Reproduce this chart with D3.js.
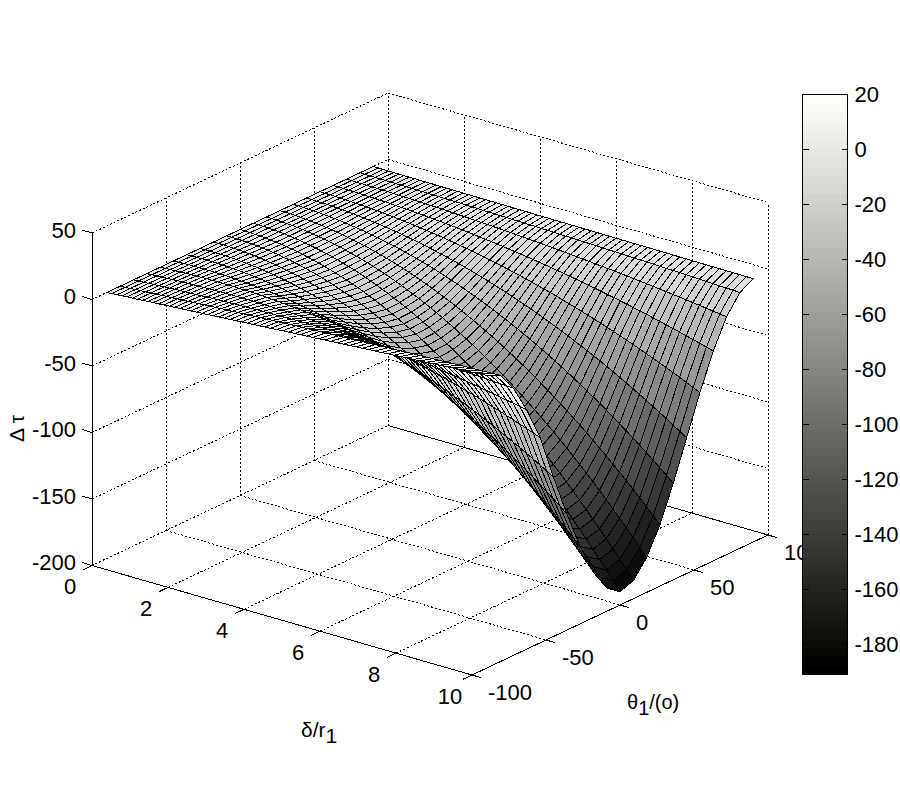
<!DOCTYPE html>
<html>
<head>
<meta charset="utf-8">
<style>
html,body{margin:0;padding:0;background:#fff}
svg{display:block}
text{font-family:"Liberation Sans",Arial,sans-serif;fill:#000}
</style>
<script src="https://cdn.jsdelivr.net/npm/d3@7"></script>
</head>
<body>
<svg id="chart" width="900" height="800"></svg>
<script>
const deltaValues=[0,.133,.267,.402,.537,.673,.81,.948,1.086,1.225,1.365,1.505,1.647,1.789,1.931,2.075,2.219,2.364,2.509,2.656,2.803,2.951,3.099,3.248,3.398,3.549,3.701,3.853,4.006,4.16,4.314,4.469,4.625,4.782,4.939,5.097,5.256,5.415,5.576,5.737,5.898,6.061,6.224,6.388,6.553,6.718,6.884,7.051,7.219,7.387,7.556,7.726,7.897,8.068,8.24,8.413,8.586,8.76,8.935,9.111,9.287,9.464,9.642,9.821,10];
const thetaValues=[-90,-81,-72,-63,-54,-45,-36,-27,-18,-9,0,9,18,27,36,45,54,63,72,81,90];
const xTicks=[0,2,4,6,8,10];
const yTicks=[-100,-50,0,50,100];
const zTicks=[-200,-150,-100,-50,0,50];
const barTicks=[20,0,-20,-40,-60,-80,-100,-120,-140,-160,-180];

const tauM90=[0,.3,.5,.8,1.1,1.3,1.6,1.9,2.2,2.5,2.7,3,3.3,3.6,3.9,4.1,4.4,4.7,5,5.3,5.6,5.9,6.2,6.5,6.8,7.1,7.4,7.7,8,8.3,8.6,8.9,9.3,9.6,9.9,10.2,10.5,10.8,11.2,11.5,11.8,12.1,12.4,12.8,13.1,13.4,13.8,14.1,14.4,14.8,15.1,15.5,15.8,16.1,16.5,16.8,17.2,17.5,17.9,18.2,18.6,18.9,19.3,19.6,20];
const tauM81=[0,.3,.5,.8,1.1,1.3,1.6,1.9,2.1,2.4,2.6,2.9,3.2,3.4,3.7,3.9,4.2,4.5,4.7,5,5.2,5.5,5.8,6,6.3,6.5,6.8,7,7.3,7.5,7.8,8,8.3,8.5,8.7,9,9.2,9.5,9.7,9.9,10.2,10.4,10.6,10.9,11.1,11.3,11.6,11.8,12,12.2,12.5,12.7,12.9,13.1,13.3,13.5,13.7,14,14.2,14.4,14.6,14.8,15,15.2,15.3];
const tauM72=[0,.3,.5,.7,1,1.2,1.4,1.6,1.9,2.1,2.3,2.5,2.6,2.8,3,3.2,3.3,3.5,3.6,3.8,3.9,4,4.2,4.3,4.4,4.5,4.5,4.6,4.7,4.8,4.8,4.9,4.9,4.9,5,5,5,5,5,4.9,4.9,4.9,4.8,4.7,4.7,4.6,4.5,4.4,4.3,4.1,4,3.9,3.7,3.5,3.3,3.1,2.9,2.7,2.5,2.3,2,1.7,1.5,1.2,.9];
const tauM63=[0,.2,.5,.7,.9,1.1,1.3,1.5,1.6,1.7,1.9,2,2.1,2.2,2.2,2.3,2.3,2.3,2.3,2.3,2.3,2.2,2.1,2,1.9,1.8,1.7,1.5,1.3,1.1,.9,.7,.4,.1,-.2,-.5,-.8,-1.2,-1.6,-2,-2.4,-2.9,-3.3,-3.8,-4.4,-4.9,-5.5,-6.1,-6.7,-7.3,-8,-8.7,-9.4,-10.2,-10.9,-11.7,-12.6,-13.4,-14.3,-15.2,-16.1,-17.1,-18.1,-19.1,-20.2];
const tauM54=[0,.3,.5,.7,.9,1.1,1.2,1.3,1.4,1.5,1.5,1.5,1.5,1.5,1.4,1.3,1.2,1.1,.9,.7,.5,.2,-.1,-.4,-.8,-1.2,-1.6,-2,-2.5,-3,-3.6,-4.2,-4.8,-5.5,-6.1,-6.9,-7.6,-8.4,-9.3,-10.1,-11,-12,-13,-14,-15.1,-16.2,-17.3,-18.5,-19.8,-21.1,-22.4,-23.7,-25.1,-26.6,-28.1,-29.6,-31.2,-32.9,-34.5,-36.3,-38.1,-39.9,-41.8,-43.7,-45.7];
const tauM45=[0,.2,.3,.5,.5,.6,.6,.6,.5,.4,.3,.1,-.1,-.4,-.6,-1,-1.4,-1.8,-2.2,-2.7,-3.3,-3.8,-4.5,-5.2,-5.9,-6.7,-7.5,-8.3,-9.2,-10.2,-11.2,-12.3,-13.4,-14.6,-15.8,-17,-18.4,-19.7,-21.2,-22.7,-24.2,-25.8,-27.5,-29.2,-31,-32.8,-34.7,-36.7,-38.7,-40.8,-42.9,-45.1,-47.4,-49.7,-52.1,-54.6,-57.2,-59.8,-62.4,-65.2,-68,-70.9,-73.9,-76.9,-80];
const tauM36=[0,.1,.2,.3,.3,.3,.2,0,-.2,-.4,-.7,-1,-1.4,-1.8,-2.3,-2.9,-3.5,-4.1,-4.8,-5.6,-6.4,-7.3,-8.2,-9.2,-10.3,-11.4,-12.6,-13.8,-15.1,-16.5,-18,-19.5,-21.1,-22.7,-24.4,-26.2,-28,-30,-32,-34.1,-36.2,-38.4,-40.7,-43.1,-45.5,-48.1,-50.7,-53.4,-56.1,-59,-61.9,-65,-68.1,-71.3,-74.5,-77.9,-81.4,-84.9,-88.6,-92.3,-96.1,-100,-104,-108.2,-112.4];
const tauM27=[0,.1,.1,.1,0,-.1,-.3,-.5,-.8,-1.2,-1.6,-2.1,-2.6,-3.2,-3.9,-4.6,-5.4,-6.3,-7.2,-8.2,-9.3,-10.5,-11.7,-13,-14.4,-15.8,-17.3,-18.9,-20.6,-22.4,-24.2,-26.1,-28.1,-30.2,-32.4,-34.6,-36.9,-39.4,-41.9,-44.5,-47.2,-49.9,-52.8,-55.8,-58.9,-62,-65.3,-68.6,-72.1,-75.7,-79.3,-83.1,-87,-90.9,-95,-99.2,-103.5,-107.9,-112.4,-117,-121.7,-126.6,-131.6,-136.6,-141.8];
const tauM18=[0,.1,.1,0,-.2,-.4,-.7,-1,-1.4,-1.8,-2.4,-3,-3.7,-4.4,-5.3,-6.2,-7.1,-8.2,-9.3,-10.5,-11.8,-13.2,-14.7,-16.2,-17.8,-19.5,-21.3,-23.2,-25.2,-27.2,-29.4,-31.6,-34,-36.4,-39,-41.6,-44.3,-47.2,-50.1,-53.1,-56.3,-59.5,-62.8,-66.3,-69.9,-73.5,-77.3,-81.2,-85.2,-89.3,-93.6,-97.9,-102.4,-107,-111.7,-116.6,-121.5,-126.6,-131.8,-137.2,-142.7,-148.3,-154,-159.8,-165.9];
const tauM9=[0,0,-.1,-.2,-.4,-.6,-1,-1.4,-1.9,-2.4,-3,-3.8,-4.5,-5.4,-6.3,-7.4,-8.5,-9.7,-10.9,-12.3,-13.7,-15.3,-16.9,-18.6,-20.4,-22.3,-24.3,-26.4,-28.5,-30.8,-33.2,-35.7,-38.3,-41,-43.7,-46.6,-49.6,-52.7,-56,-59.3,-62.7,-66.3,-69.9,-73.7,-77.6,-81.6,-85.8,-90,-94.4,-98.9,-103.6,-108.3,-113.2,-118.2,-123.4,-128.7,-134.1,-139.6,-145.3,-151.1,-157.1,-163.2,-169.4,-175.8,-182.4];
const tauP0=[0,0,-.1,-.3,-.5,-.9,-1.2,-1.7,-2.2,-2.9,-3.5,-4.3,-5.2,-6.1,-7.1,-8.2,-9.4,-10.6,-12,-13.4,-14.9,-16.5,-18.2,-20,-21.9,-23.9,-26,-28.2,-30.5,-32.9,-35.4,-37.9,-40.6,-43.4,-46.3,-49.4,-52.5,-55.7,-59.1,-62.5,-66.1,-69.8,-73.6,-77.5,-81.6,-85.8,-90,-94.5,-99,-103.7,-108.5,-113.4,-118.5,-123.7,-129,-134.5,-140.1,-145.8,-151.7,-157.7,-163.9,-170.2,-176.6,-183.2,-190];
const tauP9=[0,0,-.2,-.3,-.6,-.9,-1.3,-1.8,-2.3,-2.9,-3.6,-4.4,-5.2,-6.1,-7.1,-8.2,-9.3,-10.6,-11.9,-13.3,-14.8,-16.4,-18.1,-19.9,-21.8,-23.7,-25.8,-27.9,-30.1,-32.5,-34.9,-37.5,-40.1,-42.9,-45.7,-48.7,-51.7,-54.9,-58.2,-61.6,-65.1,-68.7,-72.4,-76.3,-80.3,-84.3,-88.5,-92.9,-97.3,-101.9,-106.6,-111.4,-116.4,-121.5,-126.7,-132,-137.5,-143.1,-148.9,-154.8,-160.8,-167,-173.3,-179.7,-186.4];
const tauP18=[0,-.1,-.2,-.4,-.6,-.9,-1.3,-1.7,-2.3,-2.8,-3.5,-4.2,-5,-5.9,-6.8,-7.8,-8.9,-10.1,-11.3,-12.7,-14.1,-15.6,-17.1,-18.8,-20.5,-22.4,-24.3,-26.3,-28.4,-30.6,-32.8,-35.2,-37.7,-40.3,-42.9,-45.7,-48.5,-51.5,-54.6,-57.7,-61,-64.3,-67.8,-71.4,-75.1,-78.9,-82.8,-86.9,-91,-95.3,-99.6,-104.1,-108.7,-113.5,-118.3,-123.3,-128.4,-133.6,-139,-144.5,-150.1,-155.8,-161.7,-167.7,-173.9];
const tauP27=[0,-.1,-.2,-.4,-.6,-.9,-1.2,-1.6,-2.1,-2.6,-3.2,-3.9,-4.6,-5.4,-6.2,-7.1,-8.1,-9.1,-10.3,-11.4,-12.7,-14,-15.4,-16.9,-18.4,-20.1,-21.8,-23.6,-25.4,-27.4,-29.4,-31.5,-33.7,-35.9,-38.3,-40.7,-43.3,-45.9,-48.6,-51.4,-54.3,-57.2,-60.3,-63.5,-66.7,-70.1,-73.6,-77.1,-80.8,-84.5,-88.4,-92.4,-96.4,-100.6,-104.9,-109.3,-113.8,-118.4,-123.1,-127.9,-132.9,-138,-143.1,-148.4,-153.8];
const tauP36=[0,-.1,-.2,-.3,-.5,-.8,-1.1,-1.4,-1.8,-2.2,-2.7,-3.3,-3.9,-4.5,-5.2,-6,-6.8,-7.7,-8.6,-9.6,-10.6,-11.7,-12.9,-14.1,-15.4,-16.7,-18.1,-19.6,-21.2,-22.8,-24.4,-26.2,-28,-29.9,-31.8,-33.8,-35.9,-38.1,-40.3,-42.7,-45,-47.5,-50,-52.7,-55.4,-58.2,-61,-64,-67,-70.1,-73.3,-76.6,-79.9,-83.4,-86.9,-90.5,-94.3,-98.1,-102,-106,-110.1,-114.2,-118.5,-122.9,-127.4];
const tauP45=[0,-.1,-.2,-.3,-.4,-.6,-.9,-1.1,-1.5,-1.8,-2.2,-2.6,-3.1,-3.6,-4.1,-4.7,-5.4,-6,-6.7,-7.5,-8.3,-9.2,-10.1,-11,-12,-13,-14.1,-15.3,-16.4,-17.7,-19,-20.3,-21.7,-23.2,-24.7,-26.2,-27.8,-29.5,-31.2,-33,-34.8,-36.7,-38.7,-40.7,-42.8,-44.9,-47.1,-49.4,-51.7,-54.1,-56.5,-59,-61.6,-64.3,-67,-69.8,-72.6,-75.5,-78.5,-81.6,-84.7,-87.9,-91.2,-94.6,-98];
const tauP54=[0,-.1,-.1,-.2,-.4,-.5,-.7,-.9,-1.1,-1.4,-1.6,-1.9,-2.3,-2.6,-3,-3.5,-3.9,-4.4,-4.9,-5.4,-6,-6.6,-7.2,-7.9,-8.6,-9.3,-10.1,-10.9,-11.7,-12.6,-13.5,-14.5,-15.4,-16.4,-17.5,-18.6,-19.7,-20.9,-22.1,-23.3,-24.6,-25.9,-27.3,-28.7,-30.2,-31.7,-33.2,-34.8,-36.4,-38,-39.8,-41.5,-43.3,-45.2,-47,-49,-51,-53,-55.1,-57.2,-59.4,-61.6,-63.9,-66.3,-68.7];
const tauP63=[0,-.1,-.1,-.2,-.3,-.4,-.5,-.6,-.8,-1,-1.1,-1.3,-1.6,-1.8,-2,-2.3,-2.6,-2.9,-3.2,-3.6,-3.9,-4.3,-4.7,-5.1,-5.5,-6,-6.5,-7,-7.5,-8,-8.6,-9.2,-9.8,-10.4,-11,-11.7,-12.4,-13.1,-13.8,-14.6,-15.4,-16.2,-17,-17.9,-18.8,-19.7,-20.6,-21.6,-22.6,-23.6,-24.6,-25.7,-26.8,-27.9,-29.1,-30.2,-31.5,-32.7,-33.9,-35.2,-36.6,-37.9,-39.3,-40.7,-42.2];
const tauP72=[0,0,-.1,-.2,-.2,-.3,-.4,-.4,-.5,-.6,-.8,-.9,-1,-1.1,-1.3,-1.4,-1.6,-1.7,-1.9,-2.1,-2.3,-2.5,-2.7,-2.9,-3.1,-3.4,-3.6,-3.9,-4.1,-4.4,-4.7,-5,-5.3,-5.6,-5.9,-6.2,-6.6,-6.9,-7.3,-7.7,-8.1,-8.5,-8.9,-9.3,-9.8,-10.2,-10.7,-11.1,-11.6,-12.1,-12.6,-13.2,-13.7,-14.2,-14.8,-15.4,-16,-16.6,-17.2,-17.8,-18.4,-19.1,-19.8,-20.5,-21.2];
const tauP81=[0,0,-.1,-.1,-.2,-.2,-.3,-.3,-.4,-.4,-.5,-.6,-.6,-.7,-.8,-.8,-.9,-1,-1,-1.1,-1.2,-1.3,-1.4,-1.5,-1.6,-1.7,-1.8,-1.9,-2,-2.1,-2.2,-2.3,-2.4,-2.5,-2.6,-2.7,-2.9,-3,-3.1,-3.3,-3.4,-3.5,-3.7,-3.8,-4,-4.1,-4.3,-4.4,-4.6,-4.8,-4.9,-5.1,-5.3,-5.5,-5.6,-5.8,-6,-6.2,-6.4,-6.6,-6.8,-7,-7.2,-7.4,-7.7];
const tauP90=[0,0,-.1,-.1,-.1,-.1,-.2,-.2,-.2,-.2,-.3,-.3,-.3,-.4,-.4,-.4,-.4,-.5,-.5,-.5,-.6,-.6,-.6,-.6,-.7,-.7,-.7,-.8,-.8,-.8,-.9,-.9,-.9,-1,-1,-1,-1.1,-1.1,-1.1,-1.1,-1.2,-1.2,-1.2,-1.3,-1.3,-1.3,-1.4,-1.4,-1.4,-1.5,-1.5,-1.5,-1.6,-1.6,-1.6,-1.7,-1.7,-1.8,-1.8,-1.8,-1.9,-1.9,-1.9,-2,-2];
const tauRows=[tauM90,tauM81,tauM72,tauM63,tauM54,tauM45,tauM36,tauM27,tauM18,tauM9,tauP0,tauP9,tauP18,tauP27,tauP36,tauP45,tauP54,tauP63,tauP72,tauP81,tauP90];

const svg=d3.select("#chart");
// oblique view of the box, one pair of screen scales per data axis
const xPx=d3.scaleLinear().domain([0,10]).range([0,380]);
const xPy=d3.scaleLinear().domain([0,10]).range([0,109.5]);
const yPx=d3.scaleLinear().domain([-100,100]).range([0,296]);
const yPy=d3.scaleLinear().domain([-100,100]).range([0,-140]);
const zPy=d3.scaleLinear().domain([-200,50]).range([0,-332.5]);
const P=(x,y,z)=>[92+xPx(x)+yPx(y),565.5+xPy(x)+yPy(y)+zPy(z)];
const seg=(a,b,dashed)=>svg.append("line")
  .attr("x1",a[0]).attr("y1",a[1]).attr("x2",b[0]).attr("y2",b[1])
  .attr("stroke","#000").attr("stroke-width",1).attr("shape-rendering","crispEdges")
  .attr("stroke-dasharray",dashed?"2 2":null);
const [xa,xb]=[xTicks[0],xTicks[5]],[ya,yb]=[yTicks[0],yTicks[4]],[za,zb]=[zTicks[0],zTicks[5]];
// grid on floor and back walls
xTicks.forEach(x=>{
  if(x>xa) seg(P(x,yb,za),P(x,yb,zb),true);
  if(x>xa&&x<xb) seg(P(x,ya,za),P(x,yb,za),true);
});
yTicks.forEach(y=>{
  seg(P(xa,y,za),P(xa,y,zb),true);
  if(y>ya&&y<yb) seg(P(xa,y,za),P(xb,y,za),true);
});
seg(P(xa,ya,za),P(xa,yb,za),true);
zTicks.forEach(z=>{
  if(z>za){
    seg(P(xa,ya,z),P(xa,yb,z),true);
    seg(P(xa,yb,z),P(xb,yb,z),true);
  }
});
// solid axes
seg(P(xa,ya,za),P(xb,ya,za));
seg(P(xb,ya,za),P(xb,yb,za));
seg(P(xa,yb,za),P(xb,yb,za));
seg(P(xa,ya,za),P(xa,ya,zb));
// ticks + tick labels
const label=(x,y,t,anchor)=>svg.append("text").attr("x",x).attr("y",y).attr("font-size",22)
  .attr("text-anchor",anchor).text(t);
xTicks.forEach(x=>{
  const p=P(x,ya,za);
  seg(p,[p[0]-9,p[1]+4.3]);
  label(p[0]-22,p[1]+28.5,x,"middle");
});
yTicks.forEach(y=>{
  const p=P(xb,y,za);
  seg(p,[p[0]+9,p[1]+2.6]);
  label(p[0]+16,p[1]+25,y,"start");
});
zTicks.forEach(z=>{
  const p=P(xa,ya,z);
  seg(p,[p[0]-10,p[1]-3]);
  label(76,p[1]+4.5,z,"end");
});
// axis titles
const t1=svg.append("text").attr("x",301).attr("y",737).attr("font-size",21);
t1.append("tspan").text("δ/r");
t1.append("tspan").attr("dy",6).text("1");
const t2=svg.append("text").attr("x",627).attr("y",709).attr("font-size",20);
t2.append("tspan").text("θ");
t2.append("tspan").attr("dy",6).text("1");
t2.append("tspan").attr("dy",-6).text("/(ο)");
svg.append("text").attr("transform","translate(24,442) rotate(-90)").attr("font-size",21).text("Δ τ");

// surface
const flat=tauRows.flat();
const cLo=-191,cHi=d3.max(flat);
const levels=d3.range(64).map(i=>Math.round(i/63*255));
const grays=levels.map(g=>`rgb(${g},${g},${g})`);
const color=d3.scaleQuantize().domain([cLo,cHi]).range(grays);
const facets=[];
for(let i=0;i<deltaValues.length-1;i++){
  for(let j=thetaValues.length-2;j>=0;j--){
    facets.push({i,j});
  }
}
const line=d3.line().curve(d3.curveLinearClosed);
svg.append("g").selectAll("path").data(facets).join("path")
  .attr("d",d=>line([
    P(deltaValues[d.i],thetaValues[d.j],tauRows[d.j][d.i]),
    P(deltaValues[d.i+1],thetaValues[d.j],tauRows[d.j][d.i+1]),
    P(deltaValues[d.i+1],thetaValues[d.j+1],tauRows[d.j+1][d.i+1]),
    P(deltaValues[d.i],thetaValues[d.j+1],tauRows[d.j+1][d.i])
  ]))
  .attr("fill",d=>color(tauRows[d.j][d.i]))
  .attr("stroke","#000").attr("stroke-width",1).attr("shape-rendering","crispEdges");

// colorbar
const barY=d3.scaleLinear().domain([20,-191]).range([94.3,674.3]);
const barX=802.5,barW=45;
const bar=svg.append("g");
bar.selectAll("rect").data(levels).join("rect")
  .attr("x",barX).attr("width",barW)
  .attr("y",(g,i)=>barY(cLo+(i+1)/64*(cHi-cLo)))
  .attr("height",(g,i)=>barY(cLo+i/64*(cHi-cLo))-barY(cLo+(i+1)/64*(cHi-cLo))+0.5)
  .attr("shape-rendering","crispEdges")
  .attr("fill",g=>`rgb(${g},${Math.max(g-1,0)},${Math.max(g-4,0)})`);
bar.append("rect").attr("x",barX).attr("y",94.3).attr("width",barW).attr("height",580)
  .attr("fill","none").attr("stroke","#000").attr("shape-rendering","crispEdges");
const axis=d3.axisRight(barY).tickValues(barTicks).tickSize(0).tickPadding(7).tickFormat(d=>String(d));
const ag=svg.append("g").attr("transform",`translate(${barX+barW},0)`).call(axis);
ag.select(".domain").remove();
ag.selectAll("text").attr("font-size",22).attr("dy","0.34em");
barTicks.forEach(v=>{
  const yy=barY(v);
  seg([barX,yy],[barX+6,yy]);
  seg([barX+barW-6,yy],[barX+barW,yy]);
});
</script>
</body>
</html>
